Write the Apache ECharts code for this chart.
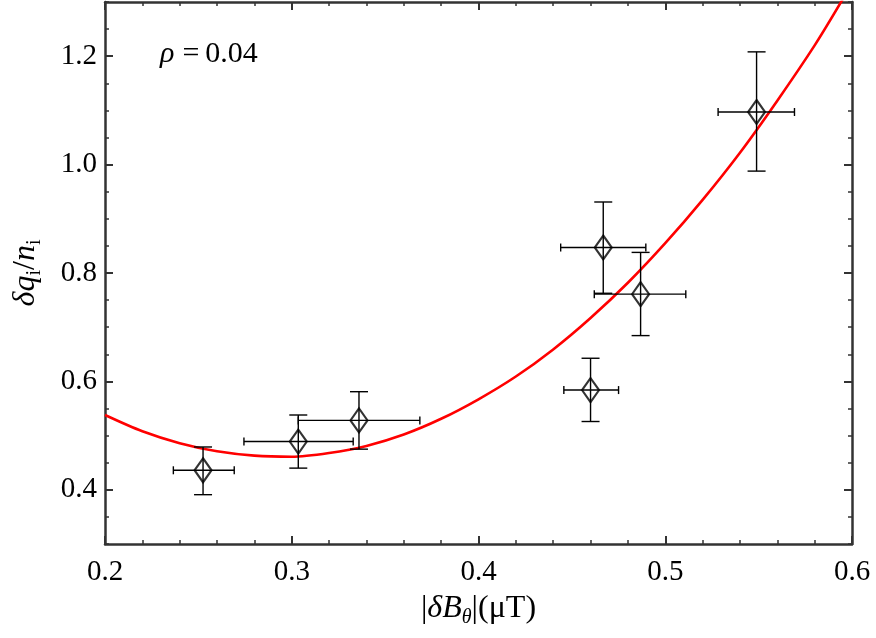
<!DOCTYPE html>
<html>
<head>
<meta charset="utf-8">
<script src="https://cdn.jsdelivr.net/npm/echarts@6/dist/echarts.min.js"></script>
<style>html,body{margin:0;padding:0;background:#fff;}#c{width:876px;height:638px;}</style>
</head>
<body>
<div id="c"></div>
<script>
// Data points (diamonds) with error bars
const ptX = [0.2525, 0.3035, 0.336, 0.4668, 0.4868, 0.460, 0.5489];
const ptY = [0.436, 0.489, 0.528, 0.847, 0.761, 0.584, 1.097];
const xLow = [0.2366, 0.2744, 0.3035, 0.444, 0.462, 0.4457, 0.5283];
const xHigh = [0.2692, 0.3329, 0.3686, 0.4896, 0.511, 0.475, 0.5692];
const yLow = [0.391, 0.440, 0.475, 0.7626, 0.6845, 0.526, 0.988];
const yHigh = [0.479, 0.538, 0.581, 0.931, 0.838, 0.6427, 1.208];

// Fitted curve
const curveX = [0.20, 0.22, 0.24, 0.26, 0.28, 0.30, 0.32, 0.34, 0.36, 0.38, 0.40, 0.42, 0.44, 0.46, 0.48, 0.50, 0.52, 0.54, 0.56, 0.58, 0.595];
const curveY = [0.538, 0.508, 0.486, 0.471, 0.463, 0.461, 0.468, 0.481, 0.502, 0.531, 0.567, 0.609, 0.659, 0.717, 0.782, 0.855, 0.935, 1.022, 1.118, 1.220, 1.305];

const yMajorTicks = [0.4, 0.6, 0.8, 1.0, 1.2];

const FONT = 'Liberation Serif';
const FRAME = '#333';

const chart = echarts.init(document.getElementById('c'), null, {renderer: 'canvas'});

const errData = ptX.map((x, i) => [x, ptY[i], xLow[i], xHigh[i], yLow[i], yHigh[i]]);
const ptData = ptX.map((x, i) => [x, ptY[i]]);
const curveData = curveX.map((x, i) => [x, curveY[i]]);

function renderErr(params, api) {
  const x = api.value(0), y = api.value(1);
  const pl = api.coord([api.value(2), y]);
  const ph = api.coord([api.value(3), y]);
  const pb = api.coord([x, api.value(4)]);
  const pt = api.coord([x, api.value(5)]);
  const capW = 9, capH = 4;
  const st = {stroke: '#000', lineWidth: 1.4};
  const L = (x1, y1, x2, y2) => ({type: 'line', shape: {x1, y1, x2, y2}, style: st});
  return {
    type: 'group',
    children: [
      L(pl[0], pl[1], ph[0], ph[1]),
      L(pl[0], pl[1] - capH, pl[0], pl[1] + capH),
      L(ph[0], ph[1] - capH, ph[0], ph[1] + capH),
      L(pb[0], pb[1], pt[0], pt[1]),
      L(pb[0] - capW, pb[1], pb[0] + capW, pb[1]),
      L(pt[0] - capW, pt[1], pt[0] + capW, pt[1])
    ]
  };
}

const tickLabel = {fontFamily: FONT, fontSize: 29, color: '#000'};
const lineStyleFrame = {color: FRAME, width: 2.5};

const baseX = {
  type: 'value', min: 0.2, max: 0.6, interval: 0.1,
  axisLine: {show: true, onZero: false, lineStyle: lineStyleFrame},
  axisTick: {show: true, inside: true, length: 8, lineStyle: {color: FRAME, width: 2}},
  minorTick: {show: true, splitNumber: 5, length: 4, lineStyle: {color: FRAME, width: 1.5}},
  splitLine: {show: false}
};

const nameRich = {
  t: {fontFamily: FONT, fontSize: 32, color: '#000', lineHeight: 38},
  i: {fontFamily: FONT, fontSize: 32, fontStyle: 'italic', color: '#000', lineHeight: 38},
  s: {fontFamily: FONT, fontSize: 20, color: '#000', verticalAlign: 'bottom'},
  si: {fontFamily: FONT, fontSize: 20, fontStyle: 'italic', color: '#000', verticalAlign: 'bottom'}
};

const option = {
  animation: false,
  backgroundColor: '#fff',
  grid: {left: 105, right: 24, top: 2, bottom: 94},
  xAxis: [
    Object.assign({}, baseX, {
      position: 'bottom',
      axisLabel: Object.assign({margin: 14, formatter: v => v.toFixed(1)}, tickLabel),
      name: '{t||}{i|δB}{si|θ}{t||(μT)}',
      nameLocation: 'middle', nameGap: 46,
      nameTextStyle: {rich: nameRich}
    }),
    Object.assign({}, baseX, {position: 'top', axisLabel: {show: false}})
  ],
  yAxis: [
    {
      type: 'value', min: 0.3, max: 1.3, interval: 0.05, position: 'left',
      axisLine: {show: true, onZero: false, lineStyle: lineStyleFrame},
      axisTick: {show: true, inside: true, length: 8, customValues: yMajorTicks, lineStyle: {color: FRAME, width: 2}},
      axisLabel: Object.assign({margin: 8, customValues: yMajorTicks, formatter: v => v.toFixed(1)}, tickLabel),
      splitLine: {show: false},
      name: '{i|δq}{s|i}{t|/}{i|n}{s|i}',
      nameLocation: 'middle', nameGap: 60, nameRotate: 90,
      nameTextStyle: {rich: nameRich}
    },
    {
      type: 'value', min: 0.3, max: 1.3, interval: 0.05, position: 'left',
      axisLine: {show: false},
      axisTick: {show: true, inside: true, length: 4, lineStyle: {color: FRAME, width: 1.5}},
      axisLabel: {show: false}, splitLine: {show: false}
    },
    {
      type: 'value', min: 0.3, max: 1.3, interval: 0.05, position: 'right',
      axisLine: {show: true, onZero: false, lineStyle: lineStyleFrame},
      axisTick: {show: true, inside: true, length: 8, customValues: yMajorTicks, lineStyle: {color: FRAME, width: 2}},
      axisLabel: {show: false}, splitLine: {show: false}
    },
    {
      type: 'value', min: 0.3, max: 1.3, interval: 0.05, position: 'right',
      axisLine: {show: false},
      axisTick: {show: true, inside: true, length: 4, lineStyle: {color: FRAME, width: 1.5}},
      axisLabel: {show: false}, splitLine: {show: false}
    }
  ],
  graphic: [{
    type: 'text', left: 160, top: 39, z: 100,
    style: {
      text: '{i|ρ}{e|=}{t|0.04}',
      rich: {
        i: {fontFamily: FONT, fontSize: 30, fontStyle: 'italic', fill: '#000'},
        e: {fontFamily: FONT, fontSize: 30, fill: '#000', padding: [0, 6, 0, 8]},
        t: {fontFamily: FONT, fontSize: 30, fill: '#000'}
      }
    }
  }],
  series: [
    {
      type: 'line', xAxisIndex: 0, yAxisIndex: 0, data: curveData,
      smooth: 0.3, showSymbol: false, clip: true,
      lineStyle: {color: '#ff0000', width: 2.6}, z: 2
    },
    {
      type: 'custom', xAxisIndex: 0, yAxisIndex: 0, data: errData,
      renderItem: renderErr, z: 3,
      encode: {x: [0, 2, 3], y: [1, 4, 5]}
    },
    {
      type: 'scatter', xAxisIndex: 0, yAxisIndex: 0, data: ptData,
      symbol: 'diamond', symbolSize: [17, 24],
      itemStyle: {color: 'rgba(0,0,0,0)', borderColor: '#000', borderWidth: 2.2}, z: 4
    }
  ]
};
chart.setOption(option);
</script>
</body>
</html>
